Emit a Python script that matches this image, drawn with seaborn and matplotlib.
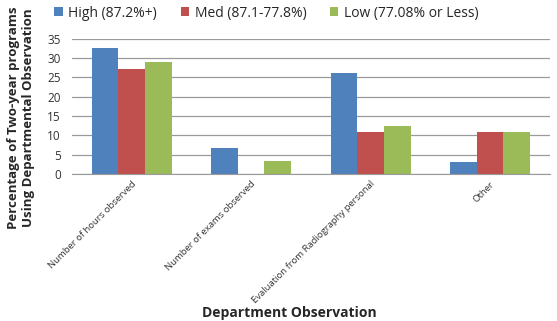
import numpy as np
import pandas as pd
import matplotlib
matplotlib.use("Agg")
import matplotlib.pyplot as plt
import seaborn as sns

# Daten
categories = ["Number of hours observed", "Number of exams observed",
              "Evaluation from Radiography personal", "Other"]
groups = ["High (87.2%+)", "Med (87.1-77.8%)", "Low (77.08% or Less)"]
high = [32.7, 6.6, 26.1, 3.1]
med = [27.2, 0.0, 10.9, 10.9]
low = [29.0, 3.4, 12.4, 10.9]
yticks = [0, 5, 10, 15, 20, 25, 30, 35]

colors = ["#4F81BD", "#C0504D", "#9BBB59"]

df = pd.DataFrame({
    "category": categories * 3,
    "group": [g for g in groups for _ in categories],
    "value": high + med + low,
})

sns.set_style("white")
plt.rcParams["font.family"] = ["Open Sans", "DejaVu Sans"]

fig = plt.figure(figsize=(5.57, 3.21), dpi=100)
ax = fig.add_axes([0.129, 0.458, 0.858, 0.421])

sns.barplot(data=df, x="category", y="value", hue="group", order=categories,
            hue_order=groups, palette=colors, width=0.67, saturation=1,
            linewidth=0, ax=ax, legend=True)

ax.set_ylim(0, 35)
ax.set_yticks(yticks)
ax.set_yticklabels([str(t) for t in yticks], fontsize=8.5, color="#333333")
ax.yaxis.grid(True, color="#9a9a9a", linewidth=0.9)
ax.set_axisbelow(True)
for s in ["top", "right", "left"]:
    ax.spines[s].set_visible(False)
ax.spines["bottom"].set_color("#9a9a9a")
ax.tick_params(axis="y", length=0, pad=8)
ax.tick_params(axis="x", length=0, pad=4)
ax.set_xticks(range(len(categories)))
ax.set_xticklabels(categories, rotation=45, ha="right", rotation_mode="anchor",
                   fontsize=6.8, color="#333333")
ax.set_xlabel("")
ax.set_ylabel("")

fig.text(0.038, 0.632, "Percentage of Two-year programs\nUsing Departmental Observation",
         rotation=90, ha="center", va="center", fontsize=9.5, fontweight="bold",
         linespacing=1.15)

leg = ax.legend(loc="center left", bbox_to_anchor=(-0.048, 1.19), ncol=3,
                frameon=False, fontsize=10, handlelength=0.6, handleheight=0.6,
                columnspacing=1.7, handletextpad=0.4, borderaxespad=0)

fig.text(0.52, 0.004, "Department Observation", ha="center", va="bottom",
         fontsize=10, fontweight="bold")

fig.savefig("out.png", dpi=100)
